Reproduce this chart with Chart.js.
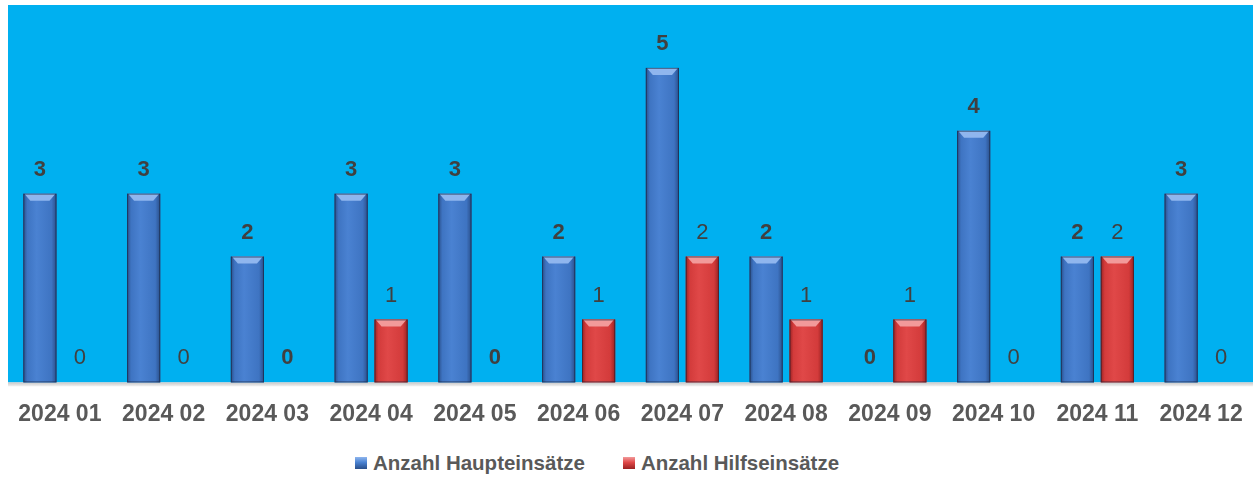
<!DOCTYPE html>
<html>
<head>
<meta charset="utf-8">
<script src="https://cdn.jsdelivr.net/npm/chart.js@4.4.1/dist/chart.umd.min.js"></script>
<style>
  html, body { margin: 0; padding: 0; background: #fff; }
  #wrap { position: absolute; left: 0; top: 0; width: 1257px; height: 444px; }
  #legend { position: absolute; left: 355px; top: 451px; display: flex; align-items: center;
            font-family: "Liberation Sans", Arial, sans-serif; font-weight: bold; font-size: 20.5px; color: #595959; }
  #legend .item { display: flex; align-items: center; margin-right: 38px; }
  #legend .box { width: 12px; height: 12px; margin-right: 6px; }
</style>
</head>
<body>
<div id="wrap"><canvas id="monthsChart"></canvas></div>
<div id="legend"></div>
<script>
var months = ['2024 01', '2024 02', '2024 03', '2024 04', '2024 05', '2024 06',
              '2024 07', '2024 08', '2024 09', '2024 10', '2024 11', '2024 12'];
var hauptEinsaetze = [3, 3, 2, 3, 3, 2, 5, 2, 0, 4, 2, 3];
var hilfsEinsaetze = [0, 0, 0, 1, 0, 1, 2, 1, 1, 0, 2, 0];
var seriesNames = ['Anzahl Haupteinsätze', 'Anzahl Hilfseinsätze'];
var yTicks = [0, 1, 2, 3, 4, 5, 6];
// in the original some of the "Hilfseinsätze" zero labels are bold too
var hilfsBoldLabels = [false, false, true, false, true, false, false, false, false, false, false, false];

var palette = [
    {edge: '#2a4f8a', mid: '#3e74c2', light: '#4a82d2', bevel: '#8fb6ee', base: '#3b6fbc'},
    {edge: '#9a2222', mid: '#d33b3b', light: '#e04848', bevel: '#f29a9a', base: '#cc3636'}
];

// light blue plot area + grey shadow line under it
var plotBackground = {
    id: 'plotBackground',
    beforeDatasetsDraw: function(chart) {
        var a = chart.chartArea, c = chart.ctx;
        c.save();
        c.fillStyle = '#00b0f0';
        c.fillRect(a.left, a.top, a.right - a.left, a.bottom - a.top);
        var g = c.createLinearGradient(0, a.bottom, 0, a.bottom + 4);
        g.addColorStop(0, '#c8c8c8');
        g.addColorStop(1, '#f2f2f2');
        c.fillStyle = g;
        c.fillRect(a.left, a.bottom, a.right - a.left, 4);
        c.restore();
    }
};

// shaded bars with the bevel at the top, then the value labels
var barLook = {
    id: 'barLook',
    afterDatasetsDraw: function(chart) {
        var c = chart.ctx;
        chart.data.datasets.forEach(function(ds, i) {
            var p = palette[i];
            chart.getDatasetMeta(i).data.forEach(function(bar, j) {
                var w = bar.width, left = bar.x - w / 2, top = bar.y, h = bar.base - bar.y;
                if (h > 0) {
                    c.save();
                    var g = c.createLinearGradient(left, 0, left + w, 0);
                    g.addColorStop(0, p.edge);
                    g.addColorStop(0.12, p.mid);
                    g.addColorStop(0.4, p.light);
                    g.addColorStop(0.85, p.mid);
                    g.addColorStop(1, p.edge);
                    c.fillStyle = g;
                    c.fillRect(left, top, w, h);
                    c.fillStyle = p.bevel;
                    c.beginPath();
                    c.moveTo(left + 1, top);
                    c.lineTo(left + w - 1, top);
                    c.lineTo(left + w - 7, top + 7);
                    c.lineTo(left + 7, top + 7);
                    c.closePath();
                    c.fill();
                    c.strokeStyle = 'rgba(20,30,50,0.55)';
                    c.lineWidth = 1;
                    c.strokeRect(left + 0.5, top + 0.5, w - 1, h - 1);
                    c.restore();
                }
                var bold = i === 0 || hilfsBoldLabels[j];
                c.save();
                c.fillStyle = '#404040';
                c.font = (bold ? 'bold ' : '') + '22px "Liberation Sans", Arial, sans-serif';
                c.textAlign = 'center';
                c.textBaseline = 'middle';
                c.fillText(String(ds.data[j]), bar.x, bar.y - 24);
                c.restore();
            });
        });
    }
};

var ctx = document.getElementById('monthsChart').getContext('2d');
var monthsChart = new Chart(ctx, {
    type: 'bar',
    data: {
        labels: months,
        datasets: [{
            label: seriesNames[0],
            data: hauptEinsaetze,
            backgroundColor: palette[0].base,
            categoryPercentage: 0.77,
            barPercentage: 0.83
        }, {
            label: seriesNames[1],
            data: hilfsEinsaetze,
            backgroundColor: palette[1].base,
            categoryPercentage: 0.77,
            barPercentage: 0.83
        }]
    },
    options: {
        responsive: true,
        maintainAspectRatio: false,
        animation: false,
        layout: { padding: { left: 8, right: 4, top: 5, bottom: 6 } },
        plugins: {
            legend: { display: false },
            tooltip: { enabled: false }
        },
        scales: {
            x: {
                grid: { display: false },
                border: { display: false },
                ticks: {
                    padding: 10,
                    color: '#595959',
                    font: { family: '"Liberation Sans", Arial, sans-serif', size: 23, weight: 'bold' }
                }
            },
            y: {
                display: false,
                min: yTicks[0],
                max: yTicks[yTicks.length - 1],
                ticks: { stepSize: 1 }
            }
        }
    },
    plugins: [plotBackground, barLook]
});

var legendBox = document.getElementById('legend');
seriesNames.forEach(function(name, i) {
    var p = palette[i];
    var item = document.createElement('div');
    item.className = 'item';
    var box = document.createElement('span');
    box.className = 'box';
    box.style.background = 'linear-gradient(to bottom, ' + p.bevel + ' 0%, ' + p.light + ' 45%, ' + p.edge + ' 100%)';
    var txt = document.createElement('span');
    txt.textContent = name;
    item.appendChild(box);
    item.appendChild(txt);
    legendBox.appendChild(item);
});
</script>
</body>
</html>
